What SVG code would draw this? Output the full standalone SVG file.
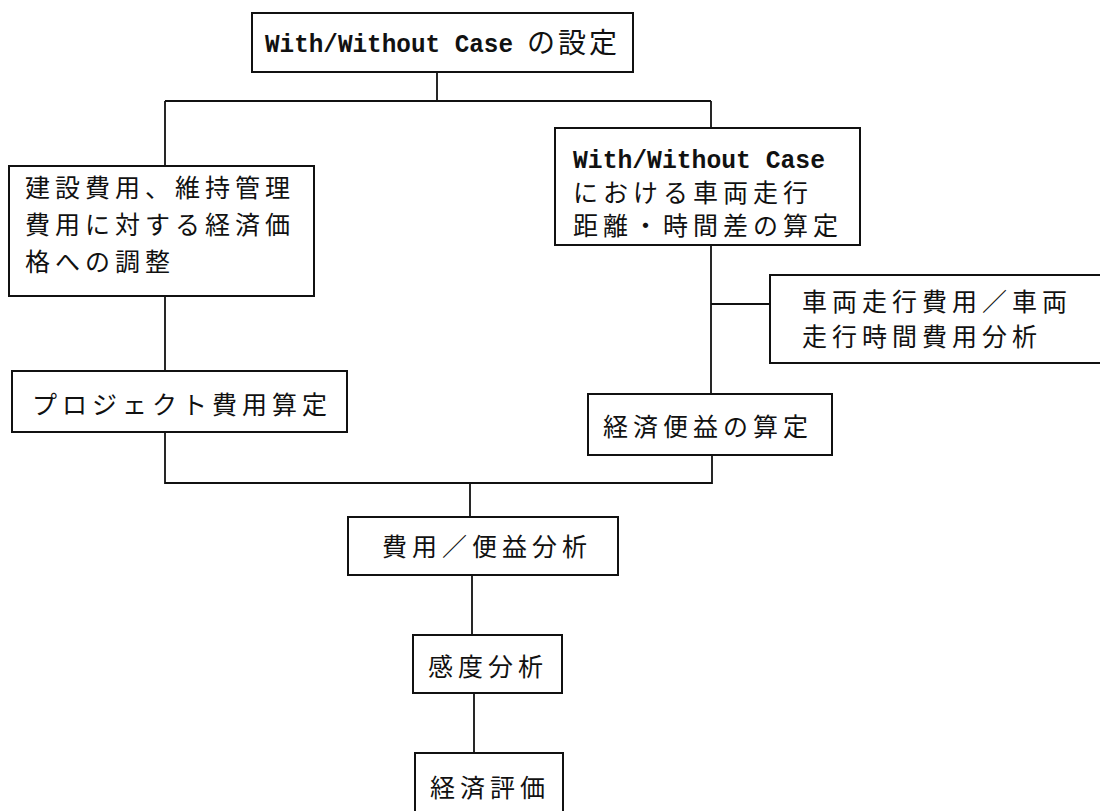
<svg xmlns="http://www.w3.org/2000/svg" width="1100" height="811" viewBox="0 0 1100 811">
<style>
.box{fill:#fff;stroke:#111;stroke-width:2}
.ln{fill:none;stroke:#111;stroke-width:1.8}
.jp{font-family:"Noto Sans CJK JP","Noto Sans CJK SC",sans-serif;font-size:25px;fill:#111;letter-spacing:5px}
.en{font-family:"Liberation Mono","DejaVu Sans Mono",monospace;font-size:25px;font-weight:bold;fill:#111}
</style>
<rect width="1100" height="811" fill="#fff"/>
<g id="connectors">
<path class="ln" d="M437,72 V101 M165,101 H711 M165,101 V166 M711,101 V128"/>
<path class="ln" d="M711,245 V394 M711,304 H770"/>
<path class="ln" d="M165,296 V371 M165,432 V483 H712 V455 M470,483 V517"/>
<path class="ln" d="M472,575 V635 M474,693 V753"/>
</g>
<g id="n-setting">
<rect class="box" x="252" y="13" width="381" height="59"/>
<text class="en" x="265" y="52" textLength="248" lengthAdjust="spacingAndGlyphs">With/Without Case</text>
<text class="jp" x="527" y="53" style="font-size:28px;letter-spacing:3px">の設定</text>
</g>
<g id="n-adjust">
<rect class="box" x="9" y="166" width="305" height="130"/>
<text class="jp" x="25" y="197">建設費用、維持管理</text>
<text class="jp" x="25" y="234">費用に対する経済価</text>
<text class="jp" x="25" y="271">格への調整</text>
</g>
<g id="n-distance">
<rect class="box" x="555" y="128" width="305" height="117"/>
<text class="en" x="573" y="168" textLength="252" lengthAdjust="spacingAndGlyphs">With/Without Case</text>
<text class="jp" x="573" y="202">における車両走行</text>
<text class="jp" x="573" y="235">距離・時間差の算定</text>
</g>
<g id="n-vehicle-cost">
<rect class="box" x="770" y="275" width="345" height="88"/>
<text class="jp" x="802" y="311">車両走行費用／車両</text>
<text class="jp" x="802" y="346">走行時間費用分析</text>
</g>
<g id="n-project-cost">
<rect class="box" x="12" y="371" width="335" height="61"/>
<text class="jp" x="32" y="414">プロジェクト費用算定</text>
</g>
<g id="n-benefit">
<rect class="box" x="588" y="394" width="244" height="61"/>
<text class="jp" x="603" y="436">経済便益の算定</text>
</g>
<g id="n-cba">
<rect class="box" x="348" y="517" width="270" height="58"/>
<text class="jp" x="382" y="556">費用／便益分析</text>
</g>
<g id="n-sensitivity">
<rect class="box" x="413" y="635" width="149" height="58"/>
<text class="jp" x="428" y="676">感度分析</text>
</g>
<g id="n-evaluation">
<rect class="box" x="415" y="753" width="148" height="70"/>
<text class="jp" x="430" y="797">経済評価</text>
</g>
</svg>
